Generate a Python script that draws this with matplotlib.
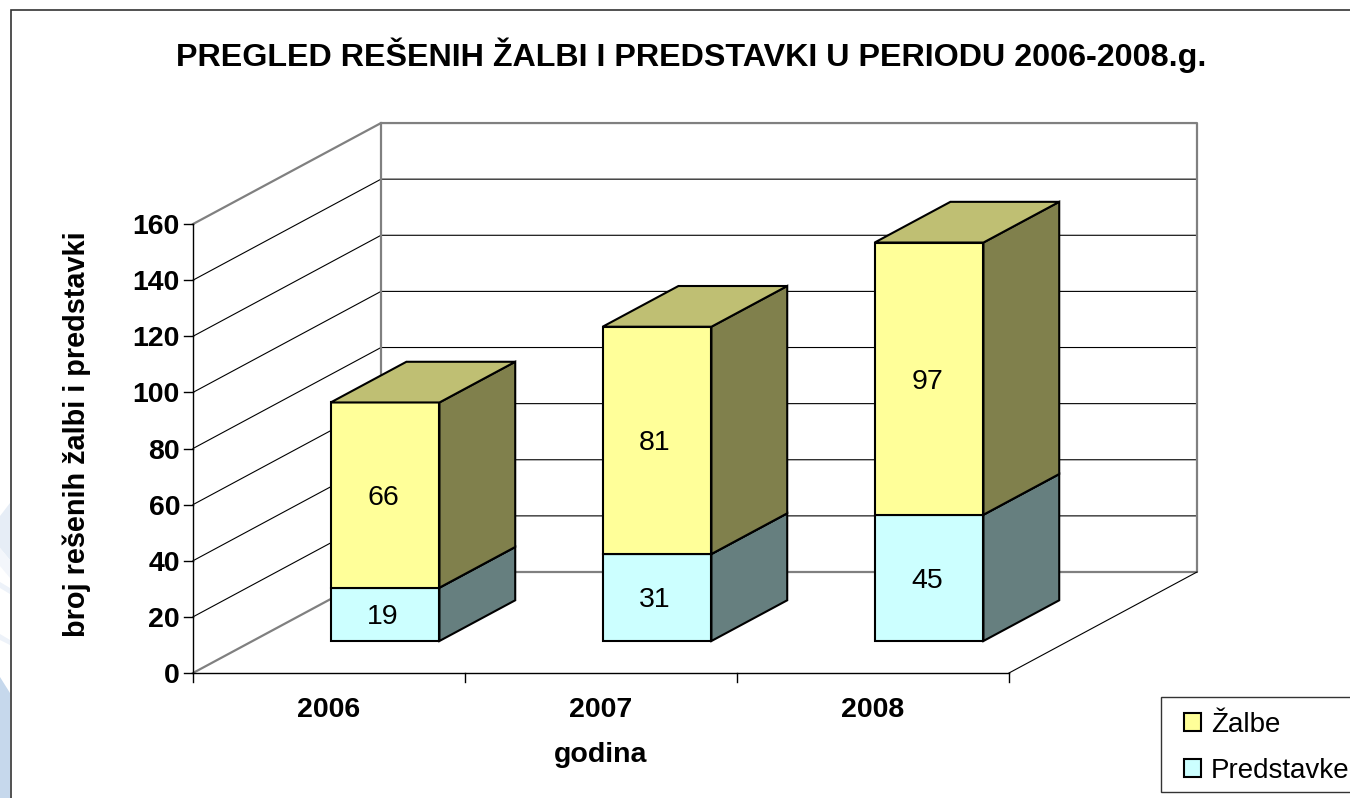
"""Stacked 3D-look column chart of resolved complaints and petitions, 2006-2008."""
import matplotlib
matplotlib.use("Agg")
import matplotlib.pyplot as plt
from matplotlib.patches import Patch, Polygon, Rectangle

plt.rcParams["font.family"] = ["Liberation Sans", "DejaVu Sans"]

years = ["2006", "2007", "2008"]
predstavke = [19, 31, 45]
zalbe = [66, 81, 97]
y_ticks = [0, 20, 40, 60, 80, 100, 120, 140, 160]

# oblique projection, in pixels of the image
X0, Y0 = 193, 673
CAT_W = 272
PX_PER_UNIT = 2.806
DEPTH_X, DEPTH_Y = 188, 101
BAR_W = 0.40
BAR_OFF = 0.287
Z_FRONT, Z_BACK = 0.317, 0.72
FS = 20.5


def proj(cat, val, z=0.0):
    return (X0 + cat * CAT_W + z * DEPTH_X, Y0 - val * PX_PER_UNIT - z * DEPTH_Y)


def box(ax, x, v0, v1, front, top, side):
    x1 = x + BAR_W
    faces = [
        ([(x, v0, Z_FRONT), (x1, v0, Z_FRONT), (x1, v1, Z_FRONT), (x, v1, Z_FRONT)], front),
        ([(x1, v0, Z_FRONT), (x1, v0, Z_BACK), (x1, v1, Z_BACK), (x1, v1, Z_FRONT)], side),
        ([(x, v1, Z_FRONT), (x1, v1, Z_FRONT), (x1, v1, Z_BACK), (x, v1, Z_BACK)], top),
    ]
    for pts, col in faces:
        ax.add_patch(Polygon([proj(*p) for p in pts], closed=True, facecolor=col,
                             edgecolor="black", lw=1.5, joinstyle="miter", zorder=4))


fig = plt.figure(figsize=(13.5, 7.98), dpi=100)
ax = fig.add_axes([0, 0, 1, 1])
ax.set_xlim(0, 1350)
ax.set_ylim(798, 0)
ax.axis("off")

# slide background peeking out on the left of the chart frame
ax.add_patch(Polygon([(0, 516), (10, 503), (10, 560), (0, 548)], facecolor="#e6edf6", lw=0))
ax.add_patch(Polygon([(0, 548), (10, 560), (10, 578), (0, 566)], facecolor="#f3f6fb", lw=0))
ax.add_patch(Polygon([(0, 582), (10, 588), (10, 594), (0, 588)], facecolor="#edf2f9", lw=0))
ax.add_patch(Polygon([(0, 634), (10, 640), (10, 645), (0, 640)], facecolor="#edf2f9", lw=0))
ax.add_patch(Polygon([(0, 677), (10, 693), (10, 798), (0, 798)], facecolor="#c6d8ec", lw=0))
ax.add_patch(Rectangle((10.5, 9.5), 1400, 900, facecolor="white", edgecolor="#333333", lw=1.2))

GREY = "#808080"
top_v = y_ticks[-1]
n = len(years)

# walls and gridlines
for v in y_ticks[1:-1]:
    ax.plot(*zip(proj(0, v), proj(0, v, 1), proj(n, v, 1)), color="black", lw=0.8, zorder=1)
ax.plot(*zip(proj(0, top_v), proj(0, top_v, 1), proj(n, top_v, 1), proj(n, 0, 1), proj(0, 0, 1), proj(0, 0)),
        color=GREY, lw=1.6, zorder=1)
ax.plot(*zip(proj(0, 0, 1), proj(0, top_v, 1)), color=GREY, lw=1.6, zorder=1)
ax.plot(*zip(proj(n, 0), proj(n, 0, 1)), color="black", lw=0.8, zorder=2)

# axes and ticks
ax.plot(*zip(proj(0, top_v), proj(0, 0), proj(n, 0)), color="black", lw=1.0, zorder=3)
for v in y_ticks:
    x, y = proj(0, v)
    ax.plot([x - 9, x], [y, y], color="black", lw=1.0, zorder=3)
    ax.text(x - 13, y, str(v), ha="right", va="center_baseline", fontsize=FS, fontweight="bold")
for i in range(n + 1):
    x, y = proj(i, 0)
    ax.plot([x, x], [y, y + 9], color="black", lw=1.0, zorder=3)
for i, year in enumerate(years):
    x, y = proj(i + 0.5, 0)
    ax.text(x, y + 34, year, ha="center", va="center_baseline", fontsize=FS, fontweight="bold")

# bars
for i in range(n):
    x = i + BAR_OFF
    p, z = predstavke[i], zalbe[i]
    box(ax, x, 0, p, "#ccffff", "#99bfbf", "#667f7f")
    box(ax, x, p, p + z, "#ffff99", "#bfbf73", "#80804c")
    cx = proj(x + BAR_W / 2, 0, Z_FRONT)[0] - 2
    ax.text(cx, proj(0, p / 2, Z_FRONT)[1], str(p), ha="center", va="center_baseline", fontsize=FS, zorder=5)
    ax.text(cx, proj(0, p + z / 2, Z_FRONT)[1], str(z), ha="center", va="center_baseline", fontsize=FS, zorder=5)

ax.text(691.5, 55, "PREGLED REŠENIH ŽALBI I PREDSTAVKI U PERIODU 2006-2008.g.", ha="center", va="center",
        fontsize=23.2, fontweight="bold")
ax.text(77, 434, "broj rešenih žalbi i predstavki", rotation=90, ha="center", va="center",
        fontsize=FS + 0.3, fontweight="bold")
ax.text(601, 755, "godina", ha="center", va="center", fontsize=FS, fontweight="bold")

# legend box runs off the right edge of the picture
ax.add_patch(Rectangle((1161, 697), 300, 95, facecolor="white", edgecolor="#333333", lw=1.0, zorder=5))
handles = [Patch(facecolor="#ffff99", edgecolor="black", lw=1.5, label="Žalbe"),
           Patch(facecolor="#ccffff", edgecolor="black", lw=1.5, label="Predstavke")]
leg = ax.legend(handles=handles, loc="upper left", bbox_to_anchor=(1184, 712), bbox_transform=ax.transData,
                fontsize=20, frameon=False, borderaxespad=0, borderpad=0,
                handlelength=0.6, handleheight=0.6, handletextpad=0.37, labelspacing=0.72)
leg.set_zorder(6)

fig.savefig("out.png", dpi=100)
print("saved out.png")
